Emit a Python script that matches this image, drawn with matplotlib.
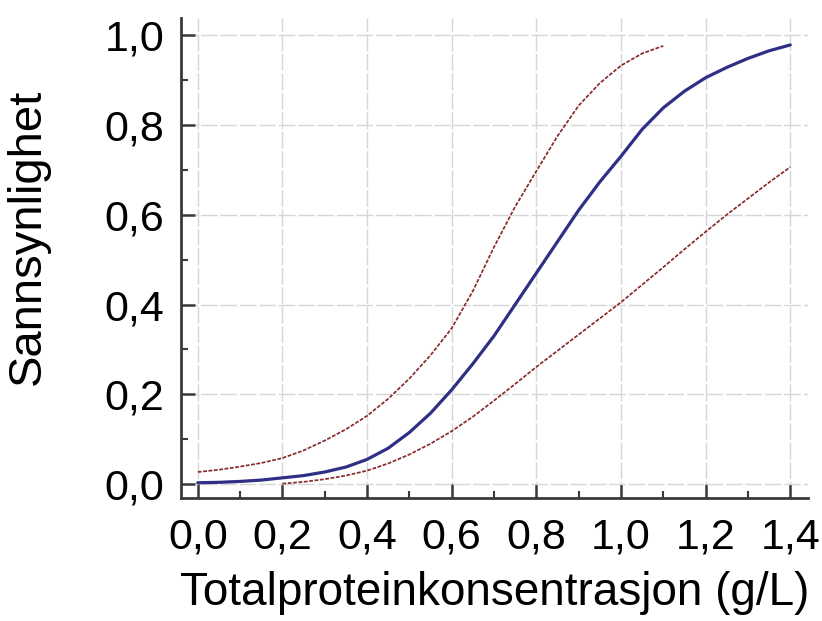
import matplotlib.pyplot as plt
from matplotlib.ticker import MultipleLocator, FuncFormatter

plt.rcParams['font.family'] = ['Liberation Sans', 'DejaVu Sans']

# predicted probability
x_fit = [0.0, 0.05, 0.1, 0.15, 0.2, 0.25, 0.3, 0.35, 0.4, 0.45, 0.5, 0.55, 0.6, 0.65, 0.7,
         0.75, 0.8, 0.85, 0.9, 0.95, 1.0, 1.05, 1.1, 1.15, 1.2, 1.25, 1.3, 1.35, 1.4]
p_fit = [0.003, 0.004, 0.006, 0.009, 0.014, 0.019, 0.027, 0.038, 0.055, 0.08, 0.115, 0.158, 0.21, 0.268, 0.33,
         0.40, 0.47, 0.54, 0.61, 0.673, 0.73, 0.79, 0.838, 0.875, 0.905, 0.928, 0.948, 0.965, 0.978]

# upper confidence limit
x_hi = [0.0, 0.05, 0.1, 0.15, 0.2, 0.25, 0.3, 0.35, 0.4, 0.45, 0.5, 0.55, 0.6, 0.65, 0.7,
        0.75, 0.8, 0.85, 0.9, 0.95, 1.0, 1.05, 1.1]
p_hi = [0.027, 0.032, 0.039, 0.047, 0.058, 0.075, 0.097, 0.122, 0.152, 0.19, 0.235, 0.287, 0.347, 0.43, 0.528,
        0.618, 0.697, 0.775, 0.843, 0.893, 0.932, 0.959, 0.976]

# lower confidence limit
x_lo = [0.2, 0.25, 0.3, 0.35, 0.4, 0.45, 0.5, 0.55, 0.6, 0.65, 0.7, 0.75, 0.8,
        0.85, 0.9, 0.95, 1.0, 1.05, 1.1, 1.15, 1.2, 1.25, 1.3, 1.35, 1.4]
p_lo = [0.001, 0.005, 0.011, 0.019, 0.03, 0.046, 0.066, 0.09, 0.118, 0.15, 0.186, 0.223, 0.261,
        0.297, 0.333, 0.369, 0.405, 0.444, 0.483, 0.523, 0.562, 0.6, 0.636, 0.672, 0.706]

x_ticks = [0.0, 0.2, 0.4, 0.6, 0.8, 1.0, 1.2, 1.4]
y_ticks = [0.0, 0.2, 0.4, 0.6, 0.8, 1.0]

fig = plt.figure(figsize=(8.22, 6.21), dpi=100)
ax = fig.add_axes([0.220, 0.198, 0.763, 0.773])

ax.plot(x_fit, p_fit, color='#2f2f86', lw=2.3, zorder=3, solid_capstyle='round')
ax.plot(x_hi, p_hi, color='#8a2b2b', lw=1.25, ls=(0, (2.2, 0.9)), zorder=3)
ax.plot(x_lo, p_lo, color='#8a2b2b', lw=1.25, ls=(0, (2.2, 0.9)), zorder=3)

ax.set_xlim(-0.040, 1.442)
ax.set_ylim(-0.031, 1.038)
ax.set_xticks(x_ticks)
ax.set_yticks(y_ticks)
ax.xaxis.set_minor_locator(MultipleLocator(0.1))
ax.yaxis.set_minor_locator(MultipleLocator(0.1))
comma = FuncFormatter(lambda v, pos: ('%.1f' % v).replace('.', ','))
ax.xaxis.set_major_formatter(comma)
ax.yaxis.set_major_formatter(comma)

ax.grid(True, which='major', color='#d6d6d6', lw=1.0, ls=(0, (12, 2)), zorder=0)

for s in ['top', 'right']:
    ax.spines[s].set_visible(False)
for s in ['left', 'bottom']:
    ax.spines[s].set_color('#3a3a3a')
    ax.spines[s].set_linewidth(2.0)

ax.tick_params(which='major', direction='in', length=10, width=1.8, color='#3a3a3a', labelsize=31)
ax.tick_params(which='minor', direction='in', length=5, width=1.5, color='#3a3a3a')
ax.tick_params(axis='y', which='major', pad=12)
ax.tick_params(axis='x', which='major', pad=14)

ax.set_xlabel('Totalproteinkonsentrasjon (g/L)', fontsize=33, labelpad=10)
ax.set_ylabel('Sannsynlighet', fontsize=34)
ax.yaxis.set_label_coords(-0.209, 0.544)

fig.savefig('out.png', dpi=100)
